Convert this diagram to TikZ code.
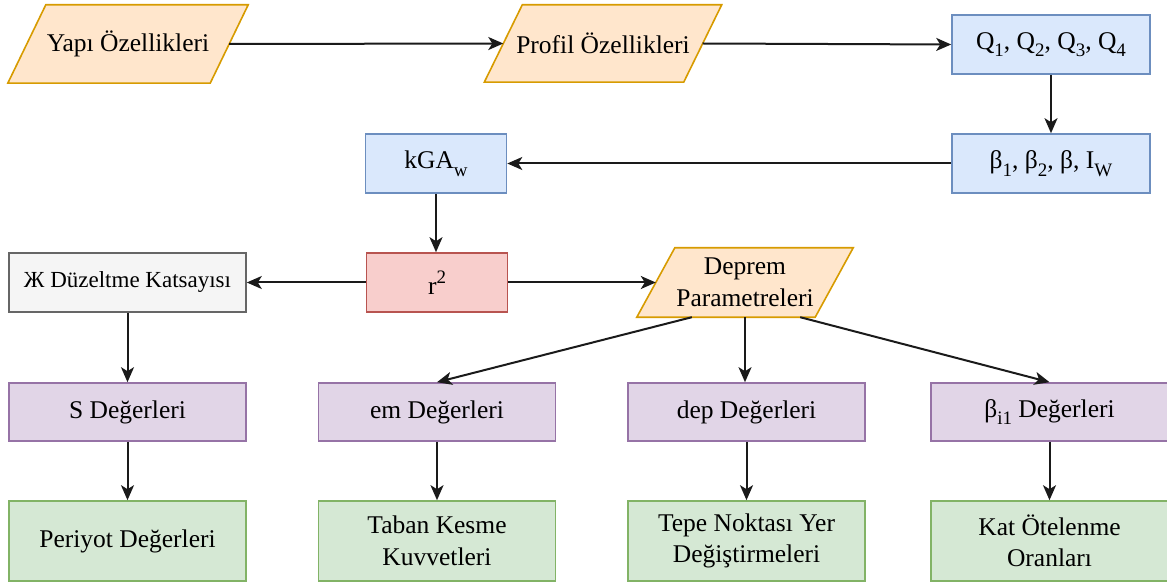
\documentclass[tikz,border=0pt]{standalone}
\usepackage{fontspec}
\setmainfont{Liberation Serif}
\usetikzlibrary{arrows.meta,calc}
\definecolor{orfill}{HTML}{FFE6CC}\definecolor{orline}{HTML}{D79B00}
\definecolor{blfill}{HTML}{DAE8FC}\definecolor{blline}{HTML}{6C8EBF}
\definecolor{rdfill}{HTML}{F8CECC}\definecolor{rdline}{HTML}{B85450}
\definecolor{gyfill}{HTML}{F5F5F5}\definecolor{gyline}{HTML}{666666}
\definecolor{pufill}{HTML}{E1D5E7}\definecolor{puline}{HTML}{9673A6}
\definecolor{grfill}{HTML}{D5E8D4}\definecolor{grline}{HTML}{82B366}
\definecolor{arrowcol}{HTML}{1A1A1A}
\newcommand\sbs[1]{\raisebox{-0.3em}{\fontsize{19}{19}\selectfont #1}}
\newcommand\sps[1]{\raisebox{0.42em}{\fontsize{19}{19}\selectfont #1}}
\pgfdeclarelayer{bg}
\pgfsetlayers{bg,main}
\tikzset{
  base/.style={inner sep=0pt, align=center, font=\rmfamily\fontsize{25.5}{31.5}\selectfont, text=black},
  box/.style={base, draw, line width=1.6pt, minimum width=#1},
  bluebox/.style={box=198pt, fill=blfill, draw=blline, minimum height=59pt},
  smallbox/.style={box=141pt, minimum height=59pt},
  rowbox/.style={box=237pt},
  purplebox/.style={rowbox, fill=pufill, draw=puline, minimum height=58pt},
  greenbox/.style={rowbox, fill=grfill, draw=grline, minimum height=80pt},
  paranode/.style={base},
  parashape/.style={fill=orfill, draw=orline, line width=1.6pt, line join=miter},
  conn/.style={draw=arrowcol, line width=2pt, -{Stealth[length=15pt, width=13pt, inset=4pt]}},
}
\newcommand\parabox[1]{%
  \begin{pgfonlayer}{bg}
  \draw[parashape] ($(#1.north west)+(19,0)$) -- ($(#1.north east)+(19,0)$) -- ($(#1.south east)+(-19,0)$) -- ($(#1.south west)+(-19,0)$) -- cycle;
  \end{pgfonlayer}}
\begin{document}
\begin{tikzpicture}[x=1pt, y=-1pt]
\useasboundingbox (0,0) rectangle (1167,585);
% parallelograms
\node[paranode, minimum width=202pt, minimum height=78pt] (Y) at (128,44) {Yapı Özellikleri};
\parabox{Y}
\node[paranode, minimum width=199pt, minimum height=77pt] (P) at (603,43.5) {Profil Özellikleri};
\parabox{P}
\node[paranode, minimum width=178pt, minimum height=69pt] (D) at (745,282.5) {Deprem\\Parametreleri};
\parabox{D}
% blue
\node[bluebox] (Q) at (1051,44.5) {Q\sbs{1}, Q\sbs{2}, Q\sbs{3}, Q\sbs{4}};
\node[bluebox] (B) at (1051,163.5) {β\sbs{1}, β\sbs{2}, β, I\sbs{W}};
\node[smallbox, fill=blfill, draw=blline] (K) at (436,163.5) {kGA\sbs{w}};
% row 3
\node[smallbox, fill=rdfill, draw=rdline] (R) at (437,282.5) {r\sps{2}};
\node[rowbox, fill=gyfill, draw=gyline, minimum height=59pt, font=\rmfamily\fontsize{23}{28}\selectfont] (Z) at (127.5,282.5) {Ж Düzeltme Katsayısı};
% row 4
\node[purplebox] (S) at (127.5,412) {S Değerleri};
\node[purplebox] (E) at (437,412) {em Değerleri};
\node[purplebox] (De) at (746.5,412) {dep Değerleri};
\node[purplebox] (Bi) at (1049.5,412) {β\sbs{i1} Değerleri};
% row 5
\node[greenbox] (G1) at (127.5,541) {Periyot Değerleri};
\node[greenbox] (G2) at (437,541) {Taban Kesme\\Kuvvetleri};
\node[greenbox] (G3) at (746.5,541) {Tepe Noktası Yer\\Değiştirmeleri};
\node[greenbox] (G4) at (1049.5,541) {Kat Ötelenme\\Oranları};
% connectors
\draw[conn] (Y.east) -- (P.west);
\draw[conn] (P.east) -- (Q.west);
\draw[conn] (Q.south) -- (B.north);
\draw[conn] (B.west) -- (K.east);
\draw[conn] (K.south) -- (R.north -| K.south);
\draw[conn] (R.west) -- (Z.east);
\draw[conn] (R.east) -- (D.west);
\draw[conn] (Z.south) -- (S.north);
\draw[conn] ([xshift=36pt]D.south west) -- (E.north);
\draw[conn] (D.south) -- (De.north -| D.south);
\draw[conn] ([xshift=-34pt]D.south east) -- (Bi.north);
\draw[conn] (S.south) -- (G1.north);
\draw[conn] (E.south) -- (G2.north);
\draw[conn] (De.south) -- (G3.north);
\draw[conn] (Bi.south) -- (G4.north);
\end{tikzpicture}
\end{document}
